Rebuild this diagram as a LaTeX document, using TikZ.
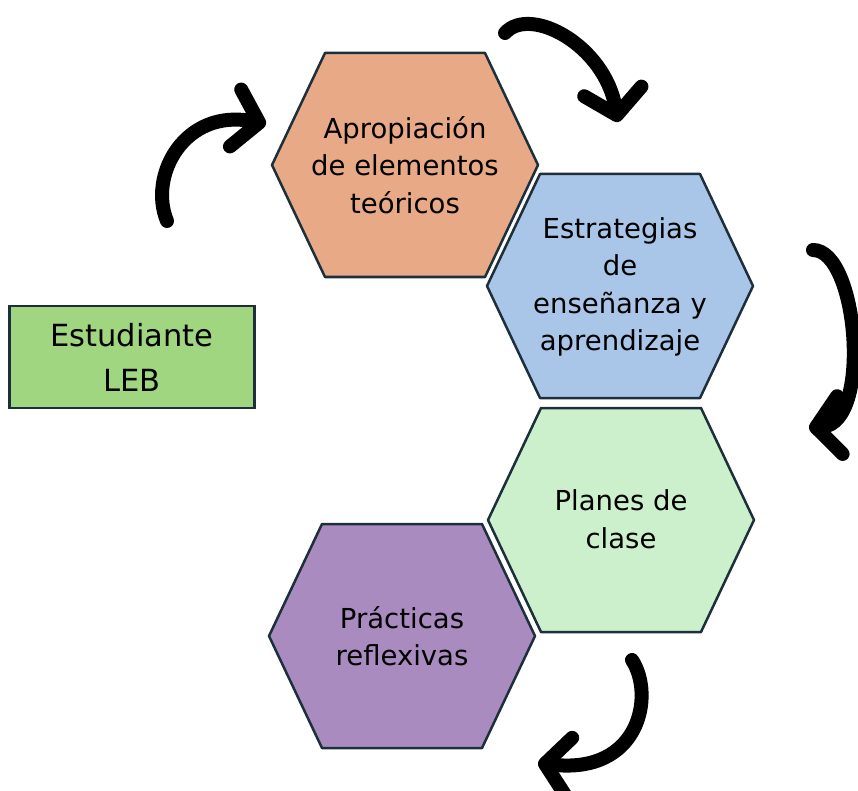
\documentclass[tikz,border=0pt]{standalone}
\usepackage{fontspec}
\setmainfont{DejaVu Sans}
\usetikzlibrary{arrows.meta}
\definecolor{hexorange}{HTML}{E8A987}
\definecolor{hexblue}{HTML}{A9C6E8}
\definecolor{hexgreen}{HTML}{CCEFCC}
\definecolor{hexpurple}{HTML}{A98BBF}
\definecolor{boxgreen}{HTML}{A0D67F}
\definecolor{hexline}{HTML}{1E2F3C}
\tikzset{hex/.style={draw=hexline, line width=2.5pt, line join=round},
    hextext/.style={align=center, font=\fontsize{27.5}{37.5}\selectfont},
    turn/.style={line width=14pt, line cap=round, -{Straight Barb[round, length=24pt, width=58pt]}}}
\newcommand{\hexagon}[2]{\draw[hex, fill=#2, shift={#1}] (-133,0) -- (-80,-112) -- (80,-112) -- (133,0) -- (80,112) -- (-80,112) -- cycle;}

\begin{document}
\begin{tikzpicture}[x=1pt, y=-1pt]
        \useasboundingbox (0,0) rectangle (858,791);

        % hexagons
        \hexagon{(405,165)}{hexorange}
        \hexagon{(620,286)}{hexblue}
        \hexagon{(621,520)}{hexgreen}
        \hexagon{(402,636)}{hexpurple}

        \node [hextext] (a) at (405,165) {Apropiación\\de elementos\\teóricos};
        \node [hextext] (b) at (620,287) {Estrategias\\de\\enseñanza y\\aprendizaje};
        \node [hextext] (c) at (621,519) {Planes de\\clase};
        \node [hextext] (d) at (402,636) {Prácticas\\reflexivas};

        \node [draw=hexline, line width=2.5pt, fill=boxgreen, minimum width=245pt, minimum height=102pt,
            align=center, font=\fontsize{30.5}{45}\selectfont] (s) at (132,357) {Estudiante\\LEB};

        % arrows
        \coordinate (s1) at (167,221);
        \coordinate (e1) at (266,124);
        \coordinate (s2) at (505,33);
        \coordinate (e2) at (618,122);
        \coordinate (s3) at (813,250);
        \coordinate (e3) at (809,428);
        \coordinate (s4) at (632,660);
        \coordinate (e4) at (538,763);

        \draw[turn] (s1) .. controls (148,175) and (185,108) .. (e1);
        \draw[turn] (s2) .. controls (530,5) and (605,45) .. (e2);
        \draw[turn] (s3) .. controls (858,250) and (872,422) .. (e3);
        \draw[turn] (s4) .. controls (655,695) and (640,775) .. (e4);
    \end{tikzpicture}
\end{document}
